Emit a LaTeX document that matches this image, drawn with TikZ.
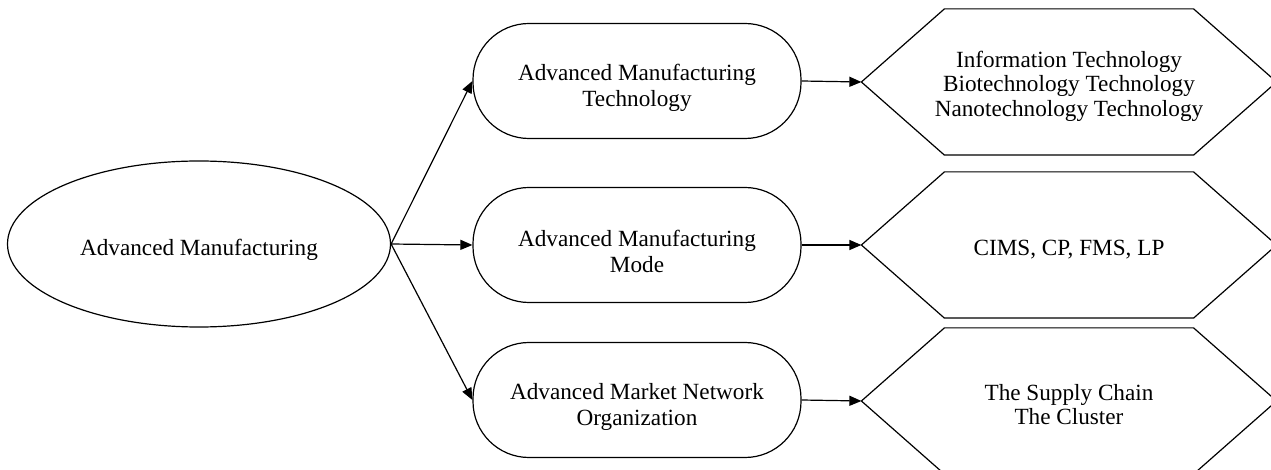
\documentclass[tikz,border=0pt]{standalone}
\usepackage{fontspec}
\setmainfont{Liberation Serif}
\usetikzlibrary{arrows.meta,shapes.geometric}

\tikzset{
  rootnode/.style={ellipse, draw, minimum width=191.5pt, minimum height=83pt, inner sep=0pt, text height=14pt},
  areanode/.style={rectangle, draw, rounded corners=28pt, minimum width=164pt, minimum height=57.5pt,
    align=center, text height=28pt},
  hexnode/.style={rectangle, minimum width=207pt, minimum height=72.5pt, align=center,
    font=\fontsize{11.6}{12.3}\selectfont},
  link/.style={-{Triangle[length=6pt,width=5pt]}}
}

\begin{document}
\begin{tikzpicture}[x=0.5pt, y=-0.5pt, line width=0.6pt, font=\fontsize{11.6}{13}\selectfont]
  \useasboundingbox (0,0) rectangle (1271,470);

  % root
  \node[rootnode] (am) at (199,244) {Advanced Manufacturing};

  % middle column
  \node[areanode] (tech) at (637,81) {Advanced Manufacturing\\Technology};
  \node[areanode] (mode) at (637,245) {Advanced Manufacturing\\Mode};
  \node[areanode] (org) at (637,400) {Advanced Market Network\\Organization};

  % right column (hexagons)
  \node[hexnode, text height=37pt] (techx) at (1069,82) {Information Technology\\Biotechnology Technology\\Nanotechnology Technology};
  \node[hexnode, text height=12.5pt] (modex) at (1069,245) {CIMS, CP, FMS, LP};
  \node[hexnode, text height=24pt] (orgx) at (1069,401) {The Supply Chain\\The Cluster};
  \foreach \h in {techx,modex,orgx}
    \draw (\h.west) -- ([xshift=41.5pt]\h.north west) -- ([xshift=-41.5pt]\h.north east)
      -- (\h.east) -- ([xshift=-41.5pt]\h.south east) -- ([xshift=41.5pt]\h.south west) -- cycle;

  % arrows
  \foreach \m in {tech,mode,org}
    \draw[link] (am.east) -- (\m.west);
  \draw[link] (tech.east) -- (techx.west);
  \draw[link] (mode.east) -- (modex.west);
  \draw[link] (org.east) -- (orgx.west);
\end{tikzpicture}
\end{document}
